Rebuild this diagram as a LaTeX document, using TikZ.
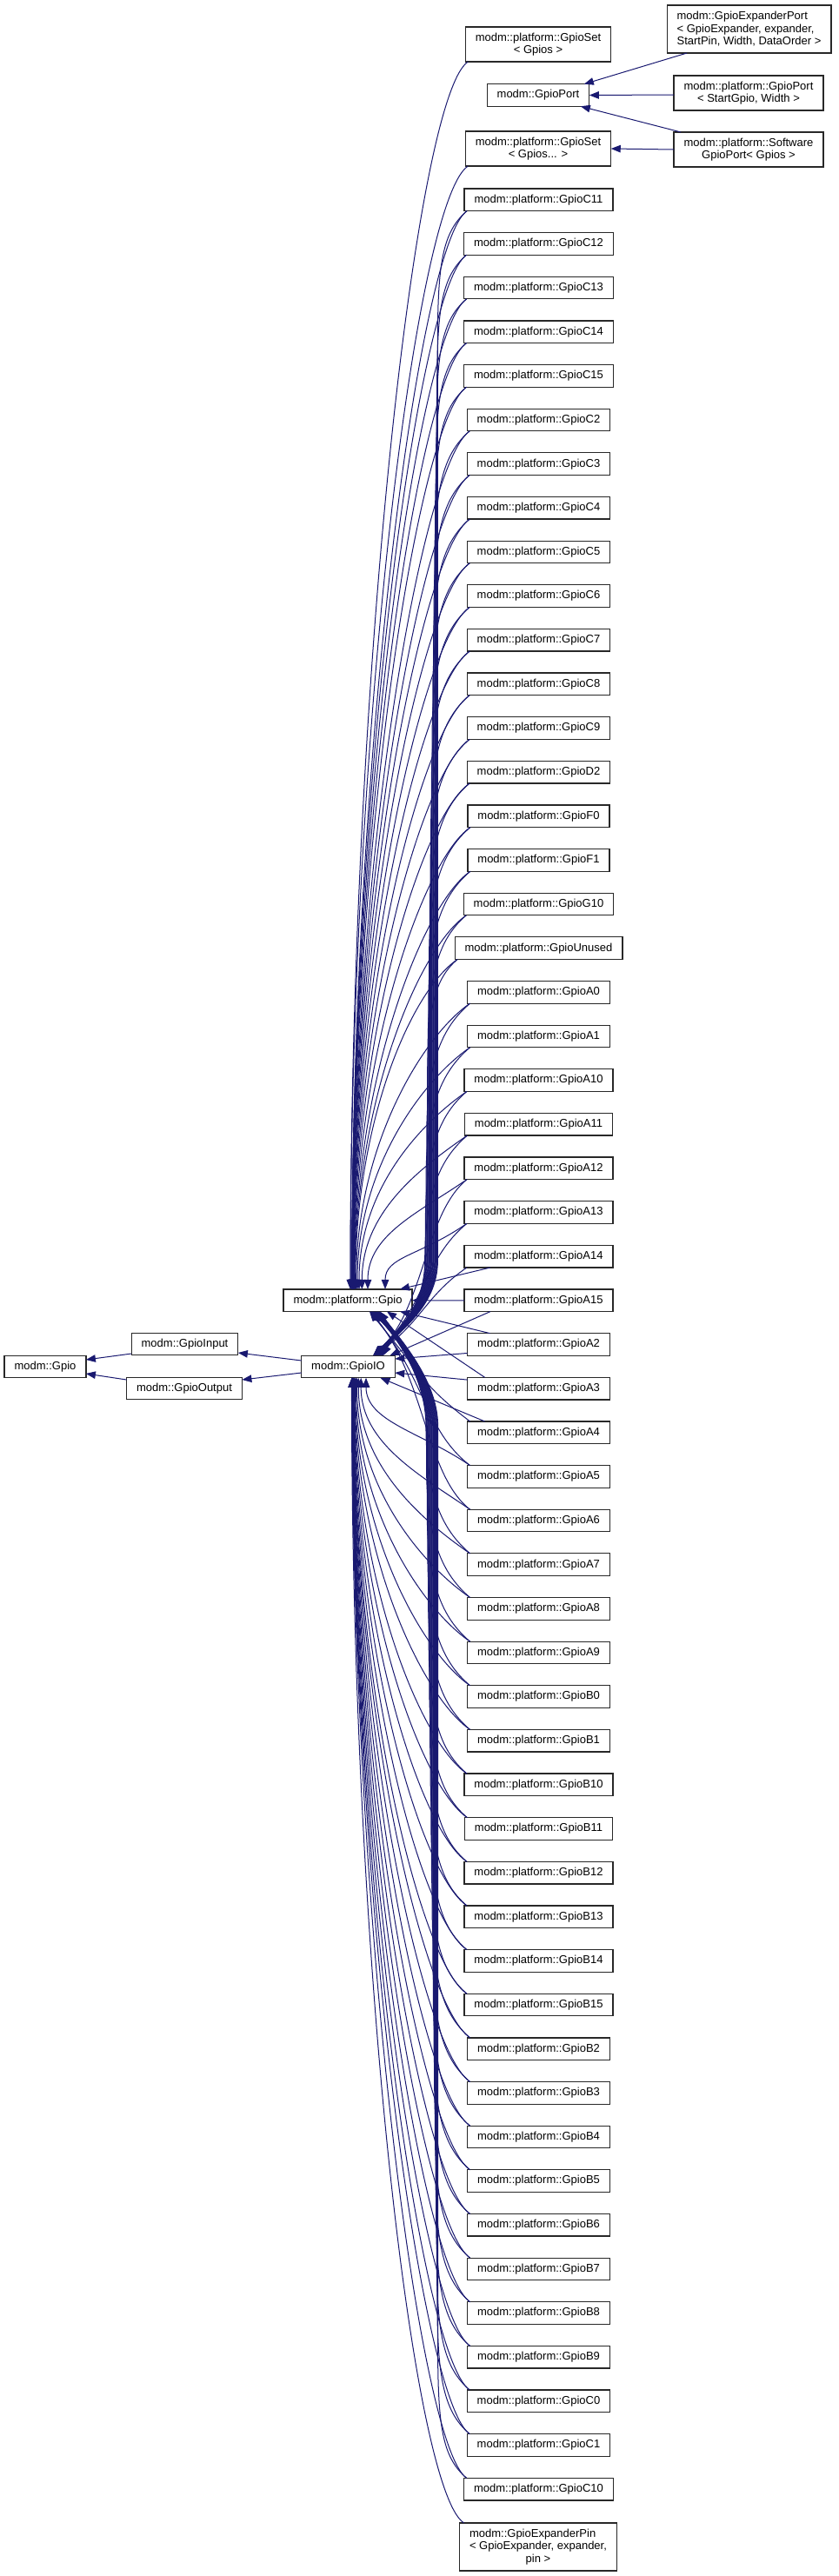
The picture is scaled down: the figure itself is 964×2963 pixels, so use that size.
\documentclass[tikz,border=0pt]{standalone}
\usepackage{fontspec}
\setmainfont{Liberation Sans}
\usetikzlibrary{arrows.meta,calc}
\definecolor{edgeblue}{RGB}{25,25,112}
\definecolor{boxline}{RGB}{40,40,40}
\newcommand\ctrline[2]{\setbox0\hbox{#1}\hbox to \wd0{\hfil #2\hfil}}
\begin{document}
\begin{tikzpicture}[x=1pt,y=-1pt,
  cls/.style={draw=boxline, line width=1.2pt, fill=white, inner xsep=11.5pt, inner ysep=2pt,
    minimum height=25.6pt, font=\fontsize{13}{14.5}\selectfont, align=center, outer sep=0pt},
  two/.style={minimum height=40pt},
  three/.style={minimum height=55pt},
  edge/.style={color=edgeblue, line width=1pt, -{Triangle[length=11pt,width=8.5pt]}}]
\useasboundingbox (0,0) rectangle (964,2963);

% left cluster
\node[cls] (gpio) at (52,1572) {modm::Gpio};
\node[cls] (input) at (212.5,1546) {modm::GpioInput};
\node[cls] (output) at (212,1597) {modm::GpioOutput};
\node[cls] (pgpio) at (400,1495.7) {modm::platform::Gpio};
\node[cls] (gio) at (400.5,1572) {modm::GpioIO};

% top cluster
\node[cls,two] (setA) at (619,51) {modm::platform::GpioSet\\< Gpios >};
\node[cls] (gport) at (619,109.5) {modm::GpioPort};
\node[cls,two] (setB) at (619,171) {modm::platform::GpioSet\\< Gpios... >};
\node[cls,three,align=left] (expport) at (861.5,33.5) {modm::GpioExpanderPort\\< GpioExpander, expander,\\StartPin, Width, DataOrder >};
\node[cls,two] (pport) at (861,107) {modm::platform::GpioPort\\< StartGpio, Width >};
\node[cls,two] (swport) at (861,172) {modm::platform::Software\\GpioPort< Gpios >};
\node[cls,three,align=left] (expin) at (619,2929.5) {modm::GpioExpanderPin\\< GpioExpander, expander,\\\ctrline{< GpioExpander, expander,}{pin >}};

% rows
\foreach \nm [count=\n from 0] in {C11,C12,C13,C14,C15,C2,C3,C4,C5,C6,C7,C8,C9,D2,F0,F1,G10,Unused,A0,A1,A10,A11,A12,A13,A14,A15,A2,A3,A4,A5,A6,A7,A8,A9,B0,B1,B10,B11,B12,B13,B14,B15,B2,B3,B4,B5,B6,B7,B8,B9,C0,C1,C10} {
  \pgfmathsetmacro\yc{229.8+50.64*\n}
  \node[cls] (r\n) at (619.5,\yc) {modm::platform::Gpio\nm};
}

% left cluster edges
\draw[edge] ([yshift=-11]input.west) -- ([yshift=8]gpio.east);
\draw[edge] ([yshift=10]output.west) -- ([yshift=-8]gpio.east);
\draw[edge] ([yshift=7]gio.west) -- ([yshift=-10]input.east);
\draw[edge] ([yshift=-7]gio.west) -- ([yshift=10]output.east);

% top cluster edges
\draw[edge] ([xshift=23]expport.south west) -- ([xshift=-6]gport.north east);
\draw[edge] ([yshift=-2]pport.west) -- (gport.east);
\draw[edge] ([xshift=8]swport.north west) -- ([xshift=-10]gport.south east);
\draw[edge] (swport.west) -- (setB.east);

% GpioSet edges to platform::Gpio
\draw[edge] ([xshift=3]setA.south west) .. controls +(-60,40) and (403,777) .. ([xshift=3]pgpio.north);
\draw[edge] ([xshift=3]setB.south west) .. controls +(-60,40) and (403,837) .. ([xshift=3]pgpio.north);

% upper rows, generic
\foreach \n in {0,...,23} {
  \pgfmathsetmacro\yb{242.6+50.64*\n}
  \pgfmathsetmacro\pdx{3+40/(24-\n)}
  \pgfmathsetmacro\pcy{1483-0.5*(1483-\yb)}
  \pgfmathsetmacro\pex{400+\pdx}
  \draw[edge] ([xshift=3]r\n.south west) .. controls +(-55,38) and (\pex,\pcy) .. ([xshift=\pdx]pgpio.north);
}
\foreach \n in {0,...,21} {
  \pgfmathsetmacro\yb{242.6+50.64*\n}
  \pgfmathsetmacro\bx{488+0.7*(22-\n)}
  \pgfmathsetmacro\ya{\yb+60}
  \pgfmathsetmacro\yz{min(\yb+150,1450)}
  \pgfmathsetmacro\qdx{40-0.5*\n}
  \draw[edge] ([xshift=3]r\n.south west) .. controls +(-28,24) and (\bx,\ya) .. (\bx,\yz) -- (\bx,1450) .. controls (\bx,1505) and (455,1532) .. ([xshift=\qdx]gio.north);
}
\foreach \n in {22,23} {
  \pgfmathsetmacro\yb{242.6+50.64*\n}
  \pgfmathsetmacro\ya{\yb+40}
  \pgfmathsetmacro\qdx{40-0.5*\n}
  \draw[edge] ([xshift=3]r\n.south west) .. controls (488,\ya) and (488,1505) .. ([xshift=\qdx]gio.north);
}
% A14
\draw[edge] ([xshift=30]r24.south west) -- ([xshift=60]pgpio.north);
\draw[edge] ([xshift=3]r24.south west) .. controls (490,1490) and (485,1520) .. ([xshift=30]gio.north);
% A15
\draw[edge] (r25.west) -- (pgpio.east);
\draw[edge] ([xshift=30]r25.south west) -- ([xshift=48]gio.north);
% A2
\draw[edge] ([yshift=-10]r26.west) -- ([yshift=9]gio.east);
\draw[edge] ([xshift=26]r26.north west) -- ([xshift=60]pgpio.south);
% A3
\draw[edge] ([yshift=10]r27.west) -- ([yshift=-7]gio.east);
\draw[edge] ([xshift=20]r27.north west) -- ([xshift=45]pgpio.south);
% A4
\draw[edge] ([xshift=20]r28.north west) -- ([xshift=37]gio.south);
\draw[edge] ([xshift=3]r28.north west) .. controls (488,1595) and (488,1585) .. ([xshift=25]pgpio.south);

% lower rows to GpioIO
\foreach \n in {29,...,52} {
  \pgfmathsetmacro\yt{217+50.64*\n}
  \pgfmathsetmacro\qdx{3+35/(\n-27)}
  \pgfmathsetmacro\qcy{1585+0.5*(\yt-1585)}
  \pgfmathsetmacro\qex{400.5+\qdx}
  \draw[edge] ([xshift=3]r\n.north west) .. controls +(-55,-38) and (\qex,\qcy) .. ([xshift=\qdx]gio.south);
}
% lower rows to platform::Gpio
\foreach \n in {29,30} {
  \pgfmathsetmacro\yt{217+50.64*\n}
  \pgfmathsetmacro\bx{488+0.65*(\n-28)}
  \pgfmathsetmacro\ya{\yt-40}
  \pgfmathsetmacro\pdx{25+0.5*(\n-28)}
  \draw[edge] ([xshift=3]r\n.north west) .. controls (\bx,\ya) and (\bx,1585) .. ([xshift=\pdx]pgpio.south);
}
\foreach \n in {31,...,52} {
  \pgfmathsetmacro\yt{217+50.64*\n}
  \pgfmathsetmacro\bx{488+0.65*(\n-28)}
  \pgfmathsetmacro\ya{\yt-60}
  \pgfmathsetmacro\yz{max(\yt-150,1640)}
  \pgfmathsetmacro\pdx{25+0.5*(\n-28)}
  \draw[edge] ([xshift=3]r\n.north west) .. controls +(-28,-24) and (\bx,\ya) .. (\bx,\yz) -- (\bx,1640) .. controls (\bx,1585) and (455,1535) .. ([xshift=\pdx]pgpio.south);
}
% GpioExpanderPin
\draw[edge] ([xshift=5]expin.north west) .. controls +(-60,-40) and (404,2243) .. ([xshift=4]gio.south);
\end{tikzpicture}
\end{document}
